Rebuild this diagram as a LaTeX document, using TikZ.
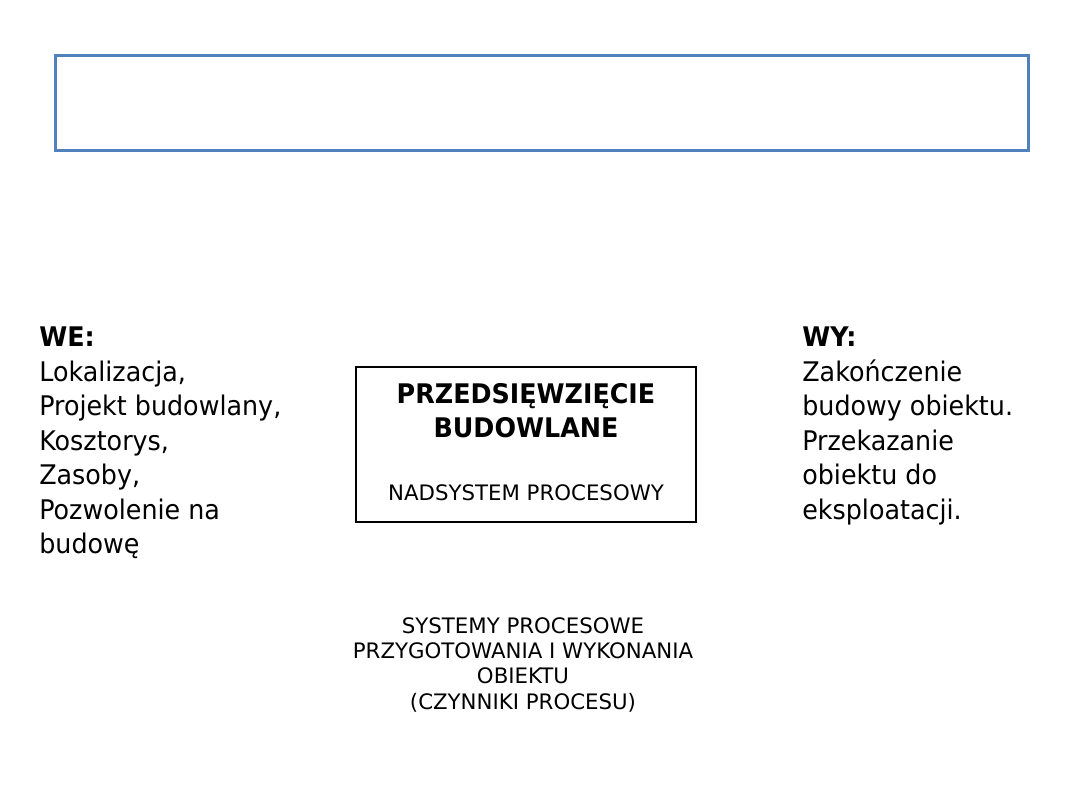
\documentclass[tikz,border=0pt]{standalone}
\usepackage{fontspec}
\setmainfont{DejaVu Sans}
\newfontfamily\condfont[FakeStretch=0.94]{DejaVu Sans}
\definecolor{topblue}{HTML}{4F81BD}
\begin{document}
\begin{tikzpicture}[x=0.6667pt,y=-0.6667pt,
  sidetext/.style={anchor=north west,inner sep=0pt,align=left,font=\condfont\fontsize{18}{23}\selectfont},
  captext/.style={inner sep=0pt,align=center,font=\fontsize{14.2}{16.9}\selectfont},
  mainbox/.style={draw=black,line width=1.3pt},
  titlebox/.style={draw=topblue,line width=2pt}]
\useasboundingbox (0,0) rectangle (1080,810);
\draw[titlebox] (55,56) rectangle (1028,150);
\node[mainbox,minimum width=340*0.6667pt,minimum height=155*0.6667pt,inner sep=0pt] (box) at (526,444.5) {};
\node[inner sep=0pt,anchor=north,align=center,font=\condfont\fontsize{18}{22.7}\selectfont\bfseries] (title) at (526,383.3) {PRZEDSIĘWZIĘCIE\\BUDOWLANE};
\node[captext,anchor=base] (nad) at (526,500) {NADSYSTEM PROCESOWY};
\node[sidetext] (we) at (39,327) {\textbf{WE:}\\Lokalizacja,\\Projekt budowlany,\\Kosztorys,\\Zasoby,\\Pozwolenie na\\budowę};
\node[sidetext] (wy) at (802,327) {\textbf{WY:}\\Zakończenie\\budowy obiektu.\\Przekazanie\\obiektu do\\eksploatacji.};
\node[captext,anchor=north] (sys) at (523,617) {SYSTEMY PROCESOWE\\PRZYGOTOWANIA I WYKONANIA\\OBIEKTU\\(CZYNNIKI PROCESU)};
\end{tikzpicture}
\end{document}
